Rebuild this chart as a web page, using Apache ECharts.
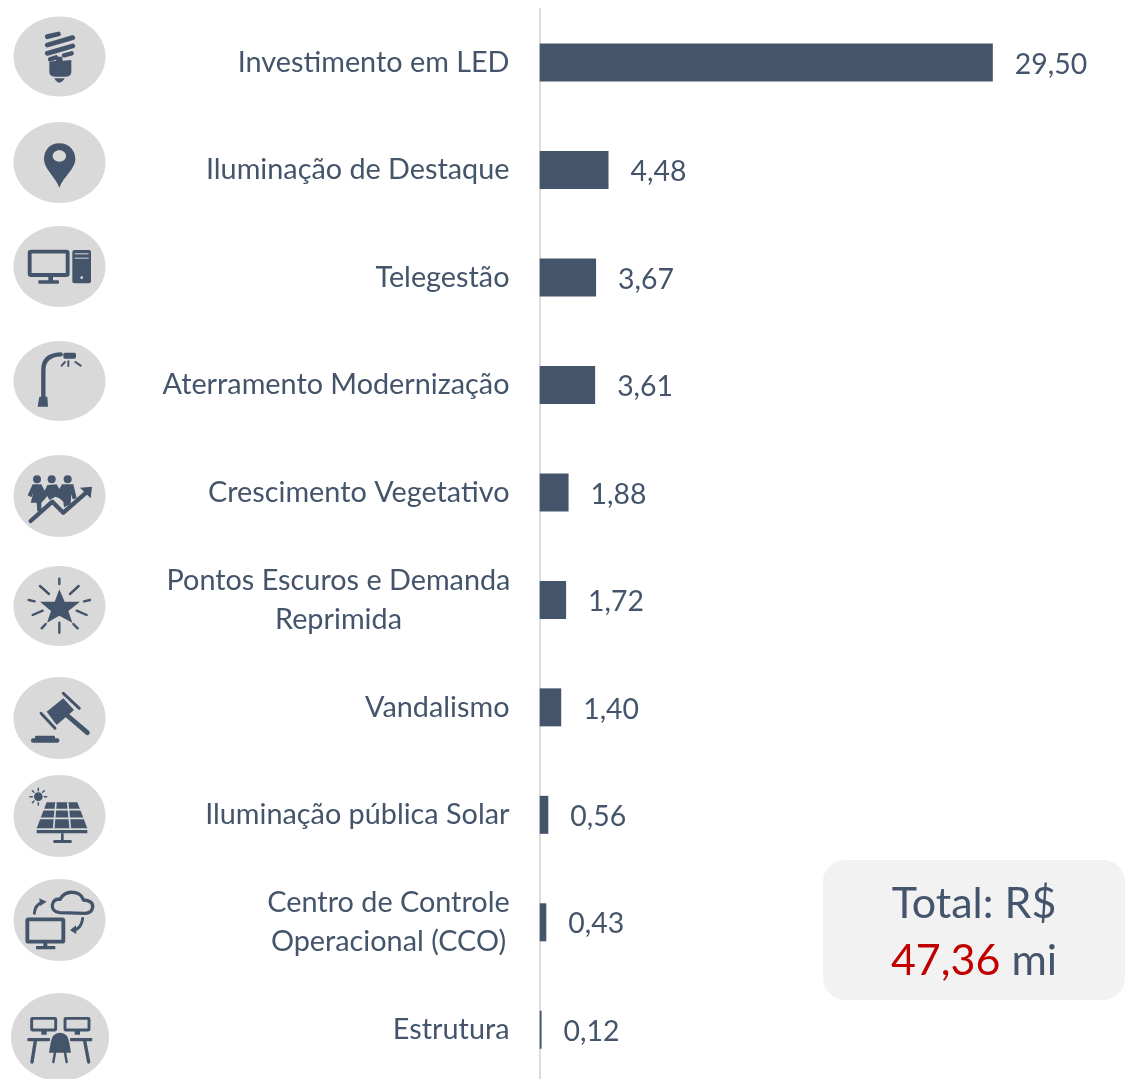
<!DOCTYPE html>
<html><head><meta charset="utf-8">
<style>html,body{margin:0;padding:0;background:#fff}#c{width:1126px;height:1079px}</style>
<script src="https://cdn.jsdelivr.net/npm/echarts@6/dist/echarts.min.js"></script>
</head><body><div id="c"></div>
<script>
const categories = ["Investimento em LED","Iluminação de Destaque","Telegestão","Aterramento Modernização","Crescimento Vegetativo","Pontos Escuros e Demanda\nReprimida","Vandalismo","Iluminação pública Solar","Centro de Controle\nOperacional (CCO)","Estrutura"];
const values = [29.50,4.48,3.67,3.61,1.88,1.72,1.40,0.56,0.43,0.12];
const totalLine1 = "Total: R$";
const totalValue = "47,36";
const totalUnit = " mi";

const INK = "#44546A", DISC = "#D9D9D9", FONT = "Lato, Carlito, sans-serif", LS = 28.8, VS = 28.4;
const chart = echarts.init(document.getElementById("c"), null, {renderer:"canvas"});

const ink = {fill:INK};
const SW = 1.45;
const line = (w)=>({stroke:INK,lineWidth:w*SW,fill:null,lineCap:"round",lineJoin:"round"});
let shapeCount = 0;
function path(d,s){
  const name = "iconPath"+(shapeCount++);
  echarts.graphic.registerShape(name, echarts.graphic.extendPath(d,{}));
  return {type:name,style:s};
}
function circle(cx,cy,r,s){return {type:"circle",shape:{cx,cy,r},style:s};}
function rect(x,y,width,height,s,r){return {type:"rect",shape:{x,y,width,height,r:r||0},style:s};}
function frame(x,y,w,h,sw,r){return rect(x,y,w,h,{stroke:INK,lineWidth:sw*SW,fill:null},r);}
function L(d,w){return path(d,line(w));}
function icon(offset,children){return {type:"group",x:0,y:offset,scaleX:1/3,scaleY:1/3,silent:true,children};}
function disc(cx,cy,rx,ry){return {type:"ellipse",shape:{cx,cy,rx,ry},style:{fill:DISC},silent:true};}

const icons = [
 icon(0,[
  L("M142 110L175 102",10),L("M142 135L218 113",10),L("M142 160L218 138",10),L("M150 178L168 172M192 166L215 160",9),
  path("M148 185L168 182L170 170L186 170L188 182L214 180L214 215Q214 230 195 230L167 230Q148 230 148 215Z",ink),
  path("M163 235L194 235Q186 248 178 248Q170 248 163 235Z",ink)
 ]),
 icon(0,[
  path("M178 430C148 430 132 452 132 478C132 506 165 530 178 563C191 530 226 506 226 478C226 452 208 430 178 430Z",ink),
  {type:"ellipse",shape:{cx:178,cy:468,rx:20,ry:17},style:{fill:DISC}}
 ]),
 icon(0,[
  frame(89,755,114,70,8,4),
  rect(145,827,14,16,ink),rect(115,841,62,10,ink,3),
  rect(217,750,56,100,ink,6),
  rect(224,760,42,3,{fill:DISC}),rect(224,773,42,3,{fill:DISC}),circle(245,833,4,{fill:DISC})
 ]),
 icon(320,[
  L("M130 235L130 150Q130 105 182 103",9),
  path("M113 260L118 230L142 230L144 260Z",ink),
  rect(190,98,38,18,ink,5),
  L("M205 124L205 138",4),L("M195 126L185 137",4),L("M226 126L242 137",4)
 ]),
 icon(320,[
  circle(111,478,12,ink),circle(155,478,12,ink),circle(203,478,12,ink),
  path("M98 493L124 493L134 512L142 495L170 493L178 507L186 493L220 493L230 535L218 538L214 522L212 552L192 562L190 545L178 535L166 530L148 540L142 528L130 542L124 548L124 574L112 574L110 548L92 548L100 518L94 532L83 526Z",ink),
  L("M92 603L157 545L190 578L262 515",9),
  path("M240 503L276 500L272 535Z",ink)
 ]),
 icon(320,[
  path("M178 808L194 845L240 845L205 873L217 908L178 887L141 908L153 873L120 845L164 845Z",ink),
  L("M178 776L178 792",5),L("M120 798L147 822",5),L("M236 798L210 822",5),L("M86 840L104 844",5),L("M270 840L252 844",5),
  L("M98 885L128 872",5),L("M260 885L230 872",5),L("M125 925L137 912",5),L("M233 925L220 912",5),L("M178 908L178 938",5)
 ]),
 icon(660,[
  path("M140 155L190 115L222 150L170 195Z",ink),
  L("M123 160L165 205",6),L("M190 100L238 145",6),
  L("M200 165L262 218",10),
  rect(93,235,85,13,ink,6),rect(105,227,60,10,ink,3)
 ]),
 icon(660,[
  circle(115,410,13,ink),
  L("M115 385L115 392M115 428L115 435M90 410L97 410M133 410L140 410M97 392L102 397M133 392L128 397M97 428L102 423",3),
  path("M140 427L232 427L262 505L110 505Z",ink),
  path("M128 449L244 449M118 475L254 475M168 427L161 505M203 427L211 505",{stroke:DISC,lineWidth:5,fill:null}),
  rect(110,510,152,10,ink),rect(183,520,8,22,ink),rect(160,540,55,9,ink,2)
 ]),
 icon(660,[
  frame(82,778,108,67,8,3),
  rect(130,847,12,13,ink),rect(108,858,58,10,ink,2),
  path("M180 758Q155 755 157 735Q160 715 180 718Q195 692 225 698Q245 702 250 720Q280 722 278 742Q275 760 255 760Z",{stroke:INK,lineWidth:10,fill:null,lineJoin:"round"}),
  L("M103 760Q105 735 125 727",6),path("M118 715L140 725L120 738Z",ink),
  L("M248 775Q245 803 224 810",6),path("M228 796L210 811L229 822Z",ink)
 ]),
 icon(660,[
  frame(95,1075,72,35,6,2),frame(195,1075,72,35,6,2),
  rect(124,1112,16,12,ink),rect(224,1112,16,12,ink),
  rect(82,1134,68,10,ink,3),rect(210,1134,67,10,ink,3),
  L("M106 1143L96 1206",7),L("M254 1143L266 1206",7),
  path("M152 1148Q156 1118 180 1118Q204 1118 208 1148L213 1178L147 1178Z",ink),
  L("M165 1178L160 1206",5),L("M195 1178L200 1206",5)
 ])
];

const discs = [disc(59.5,56.5,46,40),disc(59.5,162.5,46,40.5),disc(59.5,266.5,46,40.5),disc(59.5,381,46,40),disc(59.5,496,46,41),disc(59.5,606,46,40),disc(59.5,718,46,41),disc(59.5,816,46,41),disc(59.5,920,46,41),disc(60,1037,49,44)];

const option = {
  animation:false,
  backgroundColor:"#fff",
  grid:{left:539.7,top:8.8,width:15.36*37,height:1074.7,containLabel:false,outerBoundsMode:"none"},
  xAxis:{type:"value",min:0,max:37,show:false},
  yAxis:{type:"category",inverse:true,offset:1.7,data:categories,
    axisLine:{show:true,lineStyle:{color:"#DDDDDD",width:2}},axisTick:{show:false},
    axisLabel:{margin:28.5,color:INK,fontFamily:FONT,fontSize:LS,lineHeight:39,align:"right",
      formatter:(v)=>{
        if(v.indexOf("\n")<0) return v;
        const tag = v.indexOf("Pontos")===0?"a":"b";
        return v.split("\n").map(s=>"{"+tag+"|"+s+"}").join("\n");
      },
      rich:{
        a:{width:342,align:"center",color:INK,fontFamily:FONT,fontSize:LS,lineHeight:39},
        b:{width:242,align:"center",color:INK,fontFamily:FONT,fontSize:LS,lineHeight:39}
      }
    }
  },
  series:[{type:"bar",data:values,barWidth:38,itemStyle:{color:INK},
    label:{show:true,position:"right",distance:22,offset:[0,2],color:INK,fontFamily:FONT,fontSize:VS,
      formatter:(p)=>p.value.toFixed(2).replace(".",",")}}],
  graphic:[
    ...discs,...icons,
    {type:"rect",shape:{x:823,y:860,width:302,height:140,r:22},style:{fill:"#F2F2F2"},silent:true},
    {type:"text",x:974,y:904.5,style:{text:totalLine1,fill:INK,font:"43px "+FONT,textAlign:"center",textVerticalAlign:"middle"},silent:true},
    {type:"text",x:974,y:961.5,style:{text:"{r|"+totalValue+"}{k|"+totalUnit+"}",textAlign:"center",textVerticalAlign:"middle",
      rich:{r:{fill:"#C00000",fontSize:43,fontFamily:FONT},k:{fill:INK,fontSize:43,fontFamily:FONT}}},silent:true}
  ]
};
chart.setOption(option);
</script></body></html>
